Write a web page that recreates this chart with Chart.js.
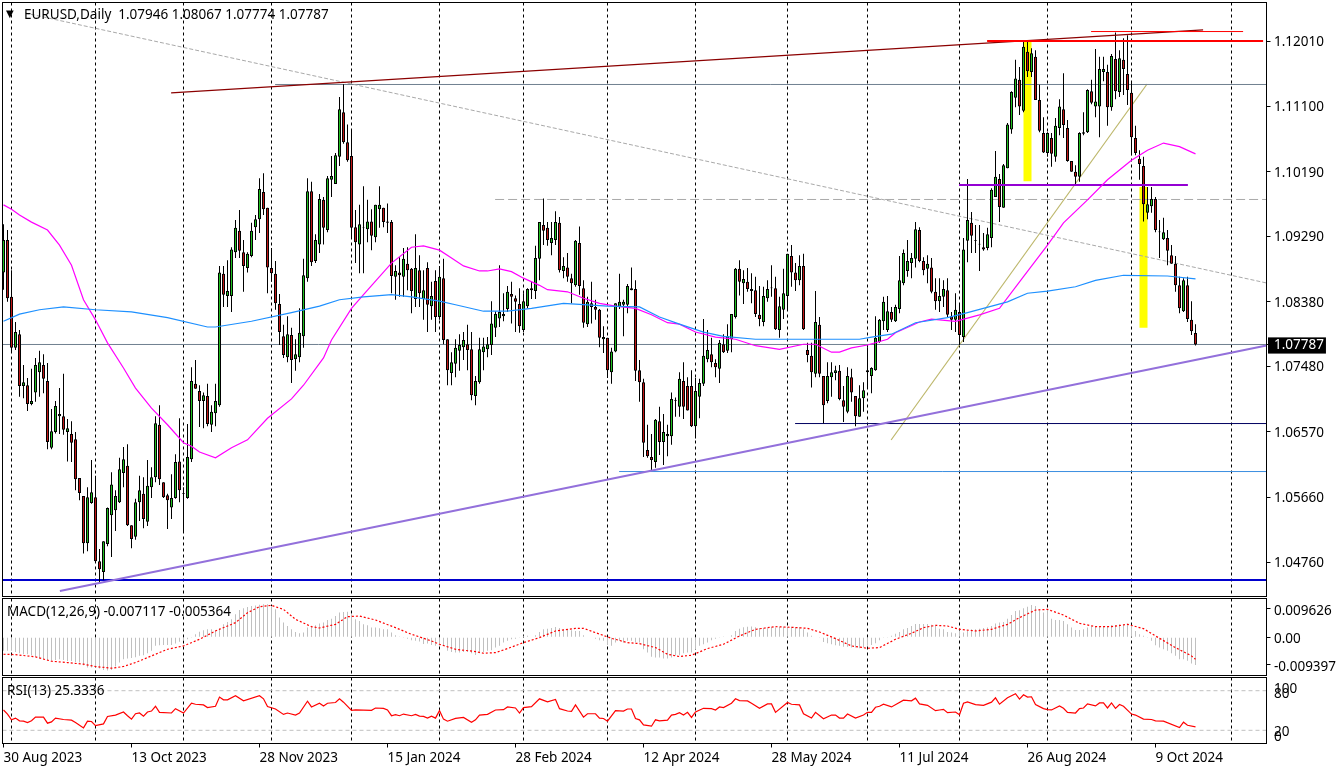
<!DOCTYPE html>
<html>
<head>
<meta charset="utf-8">
<title>EURUSD Daily</title>
<script src="https://cdn.jsdelivr.net/npm/chart.js@4"></script>
<style>
html,body{margin:0;padding:0;background:#fff;}
canvas{position:absolute;left:0;display:block;}
</style>
</head>
<body>
<canvas id="cMain" width="1338" height="598" style="top:0"></canvas>
<canvas id="cMacd" width="1338" height="78" style="top:598px"></canvas>
<canvas id="cRsi" width="1338" height="94" style="top:677px"></canvas>
<script>
const opens=[1.0879,1.0924,1.0845,1.0774,1.0793,1.0721,1.0722,1.0696,1.0712,1.0740,
1.0750,1.0728,1.0635,1.0657,1.0679,1.0679,1.0657,1.0654,1.0647,1.0593,
1.0568,1.0502,1.0558,1.0566,1.0477,1.0462,1.0501,1.0541,1.0548,1.0559,
1.0600,1.0610,1.0527,1.0511,1.0559,1.0571,1.0532,1.0580,1.0594,1.0667,
1.0587,1.0569,1.0552,1.0565,1.0616,1.0572,1.0565,1.0619,1.0724,1.0714,
1.0700,1.0707,1.0667,1.0683,1.0694,1.0877,1.0846,1.0846,1.0907,1.0937,
1.0907,1.0885,1.0902,1.0942,1.0953,1.0991,1.0969,1.0885,1.0877,1.0835,
1.0790,1.0761,1.0792,1.0758,1.0761,1.0790,1.0871,1.0992,1.0895,1.0918,
1.0980,1.0938,1.1008,1.1002,1.1040,1.1102,1.1060,1.1041,1.0942,1.0918,
1.0941,1.0939,1.0950,1.0928,1.0967,1.0969,1.0950,1.0949,1.0873,1.0879,
1.0873,1.0891,1.0884,1.0842,1.0882,1.0842,1.0885,1.0832,1.0867,1.0817,
1.0871,1.0786,1.0739,1.0752,1.0770,1.0775,1.0779,1.0772,1.0707,1.0726,
1.0768,1.0772,1.0778,1.0802,1.0815,1.0818,1.0828,1.0849,1.0843,1.0835,
1.0799,1.0832,1.0854,1.0853,1.0898,1.0945,1.0941,1.0920,1.0924,1.0948,
1.0881,1.0886,1.0871,1.0861,1.0920,1.0857,1.0807,1.0836,1.0831,1.0827,
1.0786,1.0788,1.0740,1.0769,1.0831,1.0834,1.0834,1.0857,1.0856,1.0743,
1.0726,1.0632,1.0622,1.0615,1.0672,1.0643,1.0651,1.0651,1.0700,1.0692,
1.0728,1.0721,1.0721,1.0665,1.0706,1.0724,1.0758,1.0765,1.0753,1.0745,
1.0779,1.0770,1.0786,1.0817,1.0884,1.0864,1.0866,1.0856,1.0854,1.0820,
1.0810,1.0843,1.0857,1.0857,1.0799,1.0827,1.0846,1.0902,1.0879,1.0868,
1.0888,1.0771,1.0763,1.0738,1.0806,1.0735,1.0700,1.0733,1.0739,1.0742,
1.0701,1.0685,1.0733,1.0707,1.0678,1.0704,1.0740,1.0735,1.0743,1.0782,
1.0811,1.0799,1.0824,1.0811,1.0828,1.0864,1.0881,1.0892,1.0898,1.0938,
1.0895,1.0884,1.0886,1.0852,1.0839,1.0845,1.0854,1.0818,1.0813,1.0824,
1.0789,1.0923,1.0948,1.0923,1.0918,1.0914,1.0913,1.0927,1.0984,1.1009,
1.0969,1.1024,1.1078,1.1122,1.1147,1.1104,1.1186,1.1158,1.1179,1.1119,
1.1073,1.1045,1.1066,1.1040,1.1080,1.1106,1.1080,1.1034,1.1019,1.1012,
1.1072,1.1074,1.1131,1.1110,1.1110,1.1158,1.1158,1.1109,1.1176,1.1130,
1.1175,1.1155,1.1129,1.1066,1.1037,1.1027,1.0962,1.0971,1.0981,1.0936,
1.0925,1.0927,1.0903,1.0891,1.0861,1.0825,1.0861,1.0813,1.07946];
const closes=[1.0924,1.0843,1.0774,1.0796,1.0721,1.0726,1.0696,1.0700,1.0750,1.0754,
1.0731,1.0643,1.0658,1.0693,1.0682,1.0660,1.0662,1.0642,1.0591,1.0572,
1.0502,1.0566,1.0573,1.0477,1.0466,1.0505,1.0551,1.0584,1.0568,1.0605,
1.0619,1.0527,1.0508,1.0559,1.0576,1.0536,1.0582,1.0594,1.0669,1.0591,
1.0566,1.0562,1.0565,1.0615,1.0576,1.0571,1.0622,1.0728,1.0717,1.0700,
1.0708,1.0668,1.0685,1.0700,1.0879,1.0848,1.0853,1.0911,1.0941,1.0909,
1.0888,1.0905,1.0937,1.0953,1.0995,1.0967,1.0886,1.0878,1.0836,1.0796,
1.0764,1.0793,1.0757,1.0765,1.0795,1.0875,1.0992,1.0893,1.0924,1.0981,
1.0941,1.1010,1.1013,1.1042,1.1106,1.1060,1.1035,1.0941,1.0921,1.0946,
1.0942,1.0950,1.0930,1.0973,1.0973,1.0949,1.0948,1.0874,1.0881,1.0875,
1.0898,1.0882,1.0853,1.0885,1.0850,1.0854,1.0834,1.0846,1.0817,1.0873,
1.0785,1.0743,1.0754,1.0774,1.0778,1.0785,1.0771,1.0708,1.0728,1.0772,
1.0776,1.0779,1.0808,1.0821,1.0824,1.0821,1.0852,1.0845,1.0838,1.0804,
1.0839,1.0856,1.0857,1.0899,1.0949,1.0937,1.0924,1.0927,1.0949,1.0882,
1.0888,1.0873,1.0864,1.0923,1.0860,1.0809,1.0838,1.0831,1.0827,1.0788,
1.0789,1.0743,1.0769,1.0836,1.0838,1.0838,1.0860,1.0854,1.0742,1.0726,
1.0642,1.0623,1.0618,1.0674,1.0643,1.0657,1.0654,1.0703,1.0701,1.0731,
1.0692,1.0687,1.0665,1.0714,1.0725,1.0763,1.0771,1.0754,1.0747,1.0781,
1.0768,1.0790,1.0821,1.0884,1.0866,1.0870,1.0856,1.0853,1.0821,1.0814,
1.0846,1.0856,1.0858,1.0800,1.0832,1.0850,1.0905,1.0879,1.0868,1.0888,
1.0800,1.0764,1.0740,1.0810,1.0738,1.0694,1.0735,1.0740,1.0743,1.0703,
1.0692,1.0735,1.0712,1.0679,1.0704,1.0715,1.0743,1.0746,1.0788,1.0813,
1.0838,1.0825,1.0813,1.0831,1.0868,1.0906,1.0895,1.0899,1.0939,1.0895,
1.0882,1.0891,1.0852,1.0839,1.0846,1.0856,1.0820,1.0813,1.0827,1.0792,
1.0911,1.0952,1.0930,1.0924,1.0919,1.0911,1.0932,1.0994,1.1012,1.0970,
1.1028,1.1085,1.1130,1.1149,1.1110,1.1193,1.1159,1.1184,1.1119,1.1076,
1.1046,1.1073,1.1044,1.1083,1.1110,1.1084,1.1034,1.1019,1.1012,1.1073,
1.1074,1.1133,1.1115,1.1117,1.1162,1.1162,1.1109,1.1180,1.1131,1.1177,
1.1162,1.1133,1.1067,1.1045,1.1030,1.0974,1.0974,1.0981,1.0938,1.0935,
1.0935,1.0909,1.0891,1.0861,1.0829,1.0868,1.0814,1.0797,1.07787];
const highs=[1.0946,1.0938,1.0882,1.0810,1.0799,1.0750,1.0732,1.0745,1.0760,1.0770,
1.0765,1.0753,1.0689,1.0700,1.0718,1.0738,1.0675,1.0672,1.0657,1.0593,
1.0568,1.0580,1.0618,1.0596,1.0494,1.0505,1.0552,1.0601,1.0576,1.0621,
1.0636,1.0640,1.0527,1.0564,1.0596,1.0594,1.0618,1.0608,1.0679,1.0694,
1.0587,1.0571,1.0598,1.0626,1.0676,1.0580,1.0668,1.0747,1.0757,1.0722,
1.0712,1.0724,1.0694,1.0724,1.0888,1.0888,1.0896,1.0914,1.0952,1.0966,
1.0924,1.0907,1.0948,1.0959,1.1010,1.1017,1.0969,1.0913,1.0895,1.0849,
1.0806,1.0818,1.0802,1.0786,1.0829,1.0898,1.1010,1.1005,1.0932,1.0988,
1.0984,1.1013,1.1041,1.1045,1.1123,1.1141,1.1085,1.1077,1.0966,1.0973,
1.0999,1.0980,1.0967,1.0973,1.0999,1.0969,1.0975,1.0952,1.0889,1.0900,
1.0913,1.0914,1.0885,1.0932,1.0903,1.0882,1.0893,1.0866,1.0882,1.0888,
1.0898,1.0786,1.0768,1.0786,1.0793,1.0796,1.0806,1.0796,1.0735,1.0788,
1.0788,1.0789,1.0839,1.0825,1.0889,1.0850,1.0860,1.0866,1.0847,1.0857,
1.0850,1.0857,1.0866,1.0916,1.0949,1.0982,1.0949,1.0949,1.0964,1.0956,
1.0900,1.0906,1.0877,1.0924,1.0943,1.0868,1.0845,1.0866,1.0841,1.0828,
1.0804,1.0788,1.0774,1.0836,1.0877,1.0841,1.0863,1.0886,1.0868,1.0757,
1.0731,1.0667,1.0654,1.0675,1.0692,1.0682,1.0667,1.0712,1.0705,1.0740,
1.0754,1.0733,1.0743,1.0732,1.0731,1.0814,1.0799,1.0788,1.0758,1.0785,
1.0793,1.0807,1.0821,1.0885,1.0896,1.0882,1.0885,1.0878,1.0873,1.0860,
1.0859,1.0868,1.0889,1.0873,1.0845,1.0884,1.0905,1.0917,1.0892,1.0903,
1.0905,1.0781,1.0781,1.0853,1.0817,1.0735,1.0754,1.0754,1.0749,1.0750,
1.0721,1.0747,1.0745,1.0707,1.0722,1.0726,1.0775,1.0747,1.0818,1.0814,
1.0845,1.0846,1.0831,1.0834,1.0902,1.0911,1.0924,1.0906,1.0949,1.0942,
1.0900,1.0903,1.0899,1.0871,1.0871,1.0868,1.0871,1.0824,1.0850,1.0836,
1.0927,1.1009,1.0963,1.0945,1.0945,1.0934,1.0941,1.0996,1.1048,1.1016,
1.1030,1.1087,1.1131,1.1175,1.1165,1.1201,1.1202,1.1191,1.1188,1.1140,
1.1095,1.1074,1.1073,1.1094,1.1120,1.1156,1.1091,1.1034,1.1028,1.1074,
1.1102,1.1134,1.1147,1.1190,1.1179,1.1179,1.1168,1.1183,1.1213,1.1188,
1.1205,1.1209,1.1145,1.1083,1.1049,1.1040,1.0998,1.0998,1.0984,1.0952,
1.0955,1.0938,1.0917,1.0902,1.0873,1.0871,1.0873,1.0839,1.08067];
const lows=[1.0855,1.0838,1.0768,1.0771,1.0706,1.0704,1.0686,1.0694,1.0699,1.0706,
1.0711,1.0633,1.0633,1.0655,1.0654,1.0653,1.0616,1.0615,1.0576,1.0562,
1.0488,1.0491,1.0557,1.0475,1.0448,1.0451,1.0498,1.0483,1.0519,1.0558,
1.0580,1.0526,1.0495,1.0507,1.0533,1.0523,1.0526,1.0565,1.0587,1.0583,
1.0565,1.0522,1.0536,1.0564,1.0559,1.0518,1.0564,1.0615,1.0717,1.0664,
1.0662,1.0665,1.0657,1.0665,1.0692,1.0831,1.0831,1.0824,1.0899,1.0899,
1.0852,1.0879,1.0900,1.0924,1.0934,1.0959,1.0850,1.0866,1.0827,1.0778,
1.0760,1.0754,1.0725,1.0742,1.0754,1.0774,1.0866,1.0888,1.0892,1.0906,
1.0918,1.0935,1.0984,1.1002,1.1027,1.1058,1.1033,1.0928,1.0892,1.0878,
1.0878,1.0921,1.0910,1.0921,1.0941,1.0942,1.0934,1.0850,1.0841,1.0845,
1.0845,1.0854,1.0822,1.0831,1.0831,1.0813,1.0796,1.0813,1.0796,1.0813,
1.0779,1.0722,1.0722,1.0733,1.0742,1.0757,1.0743,1.0701,1.0694,1.0724,
1.0743,1.0761,1.0764,1.0789,1.0803,1.0811,1.0824,1.0808,1.0796,1.0795,
1.0796,1.0829,1.0842,1.0842,1.0868,1.0917,1.0916,1.0903,1.0917,1.0879,
1.0871,1.0866,1.0836,1.0859,1.0848,1.0802,1.0803,1.0808,1.0813,1.0775,
1.0767,1.0732,1.0724,1.0768,1.0828,1.0790,1.0822,1.0854,1.0728,1.0699,
1.0622,1.0621,1.0603,1.0607,1.0625,1.0611,1.0623,1.0639,1.0678,1.0678,
1.0675,1.0687,1.0664,1.0648,1.0676,1.0721,1.0754,1.0747,1.0733,1.0725,
1.0767,1.0767,1.0768,1.0815,1.0847,1.0835,1.0852,1.0836,1.0817,1.0804,
1.0804,1.0838,1.0845,1.0799,1.0788,1.0814,1.0827,1.0859,1.0853,1.0861,
1.0799,1.0754,1.0719,1.0733,1.0733,1.0669,1.0697,1.0706,1.0729,1.0701,
1.0671,1.0683,1.0699,1.0665,1.0678,1.0685,1.0718,1.0711,1.0742,1.0781,
1.0799,1.0796,1.0810,1.0810,1.0822,1.0861,1.0873,1.0871,1.0886,1.0893,
1.0875,1.0864,1.0850,1.0827,1.0824,1.0831,1.0817,1.0799,1.0796,1.0778,
1.0782,1.0893,1.0906,1.0906,1.0881,1.0909,1.0910,1.0914,1.0984,1.0949,
1.0969,1.1024,1.1072,1.1109,1.1098,1.1102,1.1151,1.1151,1.1119,1.1074,
1.1045,1.1040,1.1026,1.1033,1.1070,1.1066,1.1033,1.1019,1.1002,1.1005,
1.1070,1.1073,1.1113,1.1095,1.1067,1.1145,1.1083,1.1104,1.1120,1.1123,
1.1126,1.1112,1.1042,1.1042,1.1008,1.0950,1.0953,1.0962,1.0935,1.0899,
1.0924,1.0889,1.0891,1.0852,1.0822,1.0824,1.0810,1.0792,1.07774];

const maSlowIdx=[0,2,4,7,11,14,17,20,23,26,30,33,37,41,45,47,49,53,57,61,66,72,75,80,82,87,90,97,102,105,109,112,115,119,121,124,127,130,134,136,141,145,149,153,158,162,166,169,173,178,183,188,194,200,203,207,209,212,216,221,223,229,232,238,244,249,255,261,265,271,276,282,286,290,294,298];
const maSlow=[1.0973,1.0967,1.0959,1.0949,1.0938,1.0917,1.0889,1.0841,1.0813,1.0781,1.0746,1.0718,1.0690,1.0667,1.0642,1.0637,1.0629,1.0621,1.0635,1.0646,1.0676,1.0703,1.0722,1.0760,1.0785,1.0829,1.0848,1.0892,1.0914,1.0916,1.0910,1.0899,1.0888,1.0881,1.0881,1.0884,1.0880,1.0871,1.0861,1.0855,1.0852,1.0843,1.0836,1.0832,1.0829,1.0820,1.0809,1.0807,1.0796,1.0789,1.0786,1.0777,1.0772,1.0779,1.0779,1.0768,1.0768,1.0774,1.0778,1.0786,1.0795,1.0810,1.0814,1.0811,1.0820,1.0829,1.0873,1.0917,1.0948,1.0980,1.1008,1.1035,1.1049,1.1059,1.1054,1.1044];
const maLongIdx=[0,4,9,15,23,32,41,51,53,62,72,79,84,90,97,102,109,113,120,126,132,140,151,159,164,169,175,180,188,201,214,217,222,228,236,241,251,256,261,268,273,280,291,298];
const maLong=[1.0811,1.0821,1.0827,1.0831,1.0827,1.0824,1.0816,1.0803,1.0803,1.0811,1.0823,1.0832,1.0841,1.0845,1.0848,1.0845,1.0839,1.0834,1.0825,1.0825,1.0829,1.0836,1.0832,1.0831,1.0817,1.0807,1.0796,1.0790,1.0786,1.0786,1.0786,1.0789,1.0793,1.0809,1.0816,1.0823,1.0838,1.0850,1.0853,1.0859,1.0868,1.0875,1.0874,1.0870];

const macdHist=[-0.0046,-0.0046,-0.0046,-0.0050,-0.0054,-0.0058,-0.0058,-0.0061,-0.0066,-0.0072,
-0.0075,-0.0080,-0.0080,-0.0077,-0.0075,-0.0077,-0.0081,-0.0081,-0.0084,-0.0086,
-0.0095,-0.0103,-0.0103,-0.0102,-0.0106,-0.0111,-0.0113,-0.0111,-0.0099,-0.0086,
-0.0075,-0.0072,-0.0070,-0.0068,-0.0063,-0.0061,-0.0054,-0.0046,-0.0029,-0.0027,
-0.0026,-0.0026,-0.0026,-0.0021,-0.0015,-0.0010,-0.0007,-0.0001,0.0010,0.0019,
0.0024,0.0027,0.0027,0.0024,0.0031,0.0044,0.0052,0.0061,0.0078,0.0093,
0.0099,0.0103,0.0106,0.0108,0.0111,0.0112,0.0112,0.0106,0.0095,0.0067,
0.0050,0.0038,0.0027,0.0018,0.0014,0.0016,0.0033,0.0038,0.0041,0.0047,
0.0050,0.0059,0.0063,0.0072,0.0084,0.0086,0.0087,0.0078,0.0061,0.0055,
0.0044,0.0041,0.0033,0.0033,0.0031,0.0027,0.0027,0.0016,0.0007,0.0001,
-0.0001,-0.0005,-0.0010,-0.0012,-0.0014,-0.0023,-0.0021,-0.0026,-0.0029,-0.0029,
-0.0029,-0.0046,-0.0050,-0.0052,-0.0052,-0.0050,-0.0050,-0.0054,-0.0060,-0.0054,
-0.0050,-0.0046,-0.0044,-0.0035,-0.0029,-0.0018,-0.0012,-0.0007,-0.0005,-0.0002,
0.0005,0.0005,0.0002,0.0007,0.0018,0.0027,0.0029,0.0032,0.0035,0.0032,
0.0027,0.0027,0.0024,0.0021,0.0021,0.0007,0.0002,0.0000,-0.0005,-0.0010,
-0.0012,-0.0026,-0.0029,-0.0018,-0.0012,-0.0018,-0.0012,-0.0012,-0.0018,-0.0018,
-0.0041,-0.0052,-0.0066,-0.0069,-0.0069,-0.0072,-0.0072,-0.0069,-0.0061,-0.0061,
-0.0054,-0.0052,-0.0052,-0.0041,-0.0029,-0.0024,-0.0018,-0.0010,-0.0005,-0.0001,
0.0001,0.0002,0.0007,0.0021,0.0029,0.0034,0.0036,0.0037,0.0034,0.0032,
0.0032,0.0031,0.0035,0.0033,0.0035,0.0036,0.0035,0.0036,0.0035,0.0035,
0.0027,0.0016,0.0005,0.0002,-0.0001,-0.0016,-0.0020,-0.0024,-0.0027,-0.0029,
-0.0032,-0.0032,-0.0035,-0.0035,-0.0037,-0.0035,-0.0029,-0.0026,-0.0020,-0.0010,
-0.0001,-0.0001,0.0005,0.0012,0.0018,0.0027,0.0032,0.0038,0.0045,0.0045,
0.0045,0.0045,0.0043,0.0038,0.0029,0.0027,0.0018,0.0016,0.0014,0.0023,
0.0016,0.0021,0.0027,0.0027,0.0029,0.0032,0.0033,0.0038,0.0047,0.0050,
0.0052,0.0063,0.0076,0.0089,0.0092,0.0099,0.0104,0.0110,0.0106,0.0095,
0.0084,0.0093,0.0063,0.0059,0.0059,0.0055,0.0044,0.0033,0.0025,0.0025,
0.0027,0.0033,0.0038,0.0038,0.0036,0.0038,0.0036,0.0042,0.0042,0.0044,
0.0044,0.0046,0.0038,0.0021,0.0010,0.0005,-0.0001,-0.0012,-0.0027,-0.0035,
-0.0041,-0.0046,-0.0054,-0.0063,-0.0075,-0.0075,-0.0080,-0.0089,-0.0094];
const macdSignalIdx=[0,3,8,12,16,20,23,27,30,33,37,41,45,49,53,58,61,64,67,70,73,77,79,83,86,89,93,98,102,107,109,113,118,120,123,126,130,134,138,143,145,148,152,156,159,163,166,169,172,176,180,184,188,193,197,201,204,208,212,216,219,223,227,230,233,236,239,243,247,251,254,258,261,265,269,273,277,281,285,288,293,297,298];
const macdSignal=[-0.00576,-0.00588,-0.00667,-0.00814,-0.00859,-0.00915,-0.00994,-0.01051,-0.00994,-0.00859,-0.00633,-0.00407,-0.00294,-0.00068,0.00215,0.00497,0.00836,0.0104,0.01085,0.00949,0.0061,0.00362,0.00316,0.00441,0.00701,0.00723,0.00588,0.00328,0.00102,-0.00124,-0.00237,-0.00407,-0.00486,-0.00542,-0.0052,-0.00384,-0.00181,-0.00011,0.00215,0.00305,0.00305,0.00158,-0.00034,-0.00181,-0.00215,-0.0035,-0.00576,-0.00655,-0.0061,-0.00384,-0.00237,0.00045,0.00271,0.00362,0.00339,0.00305,0.00181,-0.00045,-0.00294,-0.00373,-0.0035,-0.00068,0.00136,0.00328,0.00407,0.00384,0.00271,0.00215,0.00271,0.00441,0.00667,0.00927,0.00949,0.00757,0.00475,0.00362,0.00362,0.00441,0.00294,0.00045,-0.0035,-0.00633,-0.00746];

const rsiIdx=[0,1,2,3,4,5,6,7,8,10,11,12,13,15,17,18,20,21,22,23,25,26,28,30,31,32,33,34,35,36,37,38,39,42,43,45,47,48,50,51,53,54,55,56,58,60,64,65,66,68,70,71,73,74,76,77,79,80,81,83,84,85,87,88,92,93,95,96,97,98,99,100,102,103,104,105,106,107,108,109,
110,111,113,115,117,118,119,121,123,125,126,128,129,130,132,134,136,138,139,141,142,143,145,146,148,149,150,151,153,155,156,157,158,159,160,162,163,164,166,167,168,169,170,171,172,173,175,177,178,179,180,182,183,184,186,187,189,191,192,193,196,197,199,200,202,203,205,207,208,209,210,211,213,215,216,217,218,219,
220,222,225,227,228,229,231,233,234,235,236,238,239,240,241,243,245,247,248,249,251,253,254,255,256,257,258,260,261,262,264,265,266,268,269,270,271,273,274,275,276,277,278,279,280,282,283,285,287,288,290,294,295,296,298];
const rsiValues=[50.8,44.6,35.9,38.5,34.4,33.8,31.8,34.4,40.0,40.0,30.8,32.8,38.5,36.4,35.4,31.8,23.6,33.8,33.3,27.2,29.7,41.0,43.1,47.7,42.1,36.9,45.1,46.2,41.5,47.7,49.2,56.4,47.2,46.2,52.8,46.2,61.0,59.5,58.5,54.4,56.4,70.3,66.2,66.2,72.3,64.6,72.3,67.7,55.9,52.3,44.1,46.2,43.1,46.2,64.1,55.4,61.0,56.9,61.0,62.1,67.7,62.6,50.3,50.8,50.3,53.8,53.3,50.8,42.1,43.6,42.1,44.6,42.1,44.1,41.5,41.0,38.5,41.5,38.5,49.7,
36.9,33.8,38.0,39.5,32.3,35.9,43.1,44.1,50.8,51.3,55.4,53.8,46.2,54.4,55.9,67.7,63.1,66.7,52.8,49.2,48.7,58.5,40.0,45.1,45.1,38.5,37.9,33.8,49.7,49.2,52.3,52.3,37.9,35.9,28.2,26.2,35.9,34.4,35.4,43.1,44.1,46.7,43.1,47.2,39.5,47.7,53.3,52.8,50.8,55.4,54.4,61.0,67.7,65.1,64.6,61.0,53.3,60.0,60.0,47.2,62.1,59.5,58.5,45.1,38.5,47.2,37.4,43.1,43.1,38.5,38.5,44.6,38.5,43.1,47.2,47.2,54.9,56.4,
59.5,55.4,65.6,64.6,68.7,60.0,57.9,49.7,50.8,51.8,46.7,47.7,43.6,61.0,63.1,59.0,57.9,62.6,69.2,59.5,69.2,75.4,67.2,73.8,70.3,70.8,59.0,52.8,51.3,50.8,56.9,53.3,47.2,46.2,52.8,53.8,60.0,56.9,61.5,61.5,53.8,61.5,53.3,59.0,56.4,44.6,43.1,36.9,36.4,34.4,33.8,24.1,32.3,27.7,25.3];
const rsiGuideLevels=[80,20];

const xTickIdx=[0,32,64,96,128,160,192,224,256,288];
const xTickLabels=["30 Aug 2023","13 Oct 2023","28 Nov 2023","15 Jan 2024","28 Feb 2024","12 Apr 2024","28 May 2024","11 Jul 2024","26 Aug 2024","9 Oct 2024"];
const monthLineIdx=[2,23,45,67,87,109,130,151,173,196,216,239,261,282,307];
const priceTicks=[1.1201,1.111,1.1019,1.0929,1.0838,1.0748,1.0657,1.0566,1.0476];
const lastPrice=1.07787;
const macdTicks=[0.009626,0,-0.009397];
const macdTickLabels=["0.009626","0.00","-0.009397"];
const rsiTickSpots=[84,77,19,11.4];
const rsiTickLabels=["100","80","20","0"];

const firstIdx=-0.25, lastIdx=315.75;
const diagDownX=[5.4,lastIdx],      diagDownY=[1.1240,1.08643];
const resistX=[41.9,299.9],         resistY=[1.11287,1.12164];
const swingHighX=[67.9,lastIdx],    swingHighY=[1.11405,1.11405];
const redTopX=[245.9,314.9],        redTopY=[1.1201,1.1201];
const redThinX=[271.9,309.9],       redThinY=[1.12142,1.12142];
const neckX=[238.9,296.1],          neckY=[1.10006,1.10006];
const dashLevelX=[122.9,lastIdx],   dashLevelY=[1.09805,1.09805];
const tanX=[221.9,285.9],           tanY=[1.06458,1.11412];
const supportX=[14.1,lastIdx],      supportY=[1.04357,1.07773];
const baseLevelX=[firstIdx,lastIdx],baseLevelY=[1.0451,1.0451];
const navyLevelX=[197.9,lastIdx],   navyLevelY=[1.06687,1.06687];
const skyLevelX=[153.9,lastIdx],    skyLevelY=[1.06019,1.06019];
const bidX=[firstIdx,lastIdx],      bidY=[lastPrice,lastPrice];
const yellowIdx=[256,285];
const yellowLow=[1.1006,1.0802];
const yellowHigh=[1.1201,1.0998];

const FONT='"Noto Sans","DejaVu Sans",sans-serif';
const TICK_FONT={family:FONT,size:13.5};
const zip=(xs,ys)=>xs.map((x,k)=>({x,y:ys[k]}));
const line=(xs,ys,color,width,order,dash)=>({type:'line',data:zip(xs,ys),borderColor:color,borderWidth:width,borderDash:dash||[],pointRadius:0,tension:0,fill:false,order});
const bars=(data,thick,color,order,extra)=>Object.assign({type:'bar',data,barThickness:thick,backgroundColor:color,borderWidth:0,grouped:false,inflateAmount:0,order},extra||{});

function xAxes(showLabels){
  return {
    x:{type:'linear',min:firstIdx,max:lastIdx,offset:false,position:'bottom',
       grid:{offset:false,drawOnChartArea:false,drawTicks:showLabels,tickLength:4,tickColor:'#000'},
       border:{display:false},
       ticks:{display:showLabels,autoSkip:false,maxRotation:0,minRotation:0,align:'start',padding:3,color:'#000',font:TICK_FONT,
              callback:v=>xTickLabels[xTickIdx.indexOf(v)]},
       afterBuildTicks:s=>{s.ticks=xTickIdx.map(value=>({value}));},
       afterFit:s=>{s.height=showLabels?27.5:0;s.paddingLeft=0;s.paddingRight=0;}},
    xMonths:{type:'linear',axis:'x',min:firstIdx,max:lastIdx,offset:false,position:'bottom',
       grid:{offset:false,color:'#000',lineWidth:1,drawTicks:false},
       border:{display:false,dash:[3,3]},
       ticks:{display:false},
       afterBuildTicks:s=>{s.ticks=monthLineIdx.map(value=>({value}));},
       afterFit:s=>{s.height=0;s.paddingLeft=0;s.paddingRight=0;}}
  };
}
function yAxis(min,max,spots,label,extraTicks,tickColor){
  return {type:'linear',position:'right',min,max,beginAtZero:false,
    grid:{drawOnChartArea:false,tickLength:4,tickColor:tickColor||'#000'},
    border:{display:false},
    ticks:Object.assign({autoSkip:false,padding:3.5,color:'#000',font:TICK_FONT,callback:label},extraTicks||{}),
    afterBuildTicks:s=>{s.ticks=spots.map(value=>({value}));},
    afterFit:s=>{s.width=71.5;s.paddingTop=0;s.paddingBottom=0;}};
}
const framePlugin=caption=>({id:'frame',afterDraw(chart){
  const {ctx,chartArea:a}=chart;
  ctx.save();
  ctx.strokeStyle='#000';ctx.lineWidth=1;
  ctx.strokeRect(a.left,a.top,a.right-a.left,a.bottom-a.top);
  ctx.fillStyle='#000';ctx.textBaseline='middle';ctx.textAlign='left';
  if(caption.mark){ctx.font='10px "DejaVu Sans"';ctx.fillText(caption.mark,6,caption.y-1);}
  ctx.font='13.5px '+FONT;
  ctx.fillText(caption.text,caption.x,caption.y);
  ctx.restore();
}});
const baseOptions=(padding,scales)=>({responsive:false,animation:false,devicePixelRatio:1,
  layout:{padding},plugins:{legend:{display:false},tooltip:{enabled:false},title:{display:false}},scales});

const idx=opens.map((_,i)=>i);
const isUp=i=>closes[i]>=opens[i];
const bodyColors=idx.map(i=>isUp(i)?'#1FBF1F':'#C01515');
const pyLow=1.04280, pyHigh=1.12546;

new Chart(document.getElementById('cMain'),{
  type:'bar',
  data:{datasets:[
    bars(yellowIdx.map((x,k)=>({x,y:[yellowLow[k],yellowHigh[k]]})),8,'#FFFF00',9),
    line(dashLevelX,dashLevelY,'#A9A9A9',1,8,[9,4]),
    line(diagDownX,diagDownY,'#A9A9A9',1,8,[4,2]),
    line(swingHighX,swingHighY,'#708090',1,8),
    line(bidX,bidY,'#708090',1,8),
    line(skyLevelX,skyLevelY,'#3A8EE0',1,8),
    line(navyLevelX,navyLevelY,'#000060',1,8),
    line(baseLevelX,baseLevelY,'#0000CD',2,8),
    line(tanX,tanY,'#BDB76B',1.2,8),
    bars(idx.map(i=>({x:i,y:[lows[i],highs[i]]})),1,'#000',6),
    bars(idx.map(i=>({x:i,y:[opens[i],closes[i]]})),3,bodyColors,5,{borderWidth:1,borderColor:'#000',borderSkipped:false}),
    line(resistX,resistY,'#8B0000',1.2,4),
    line(redTopX,redTopY,'#FF0000',2,3),
    line(redThinX,redThinY,'#FF0000',1,3),
    line(neckX,neckY,'#9400D3',2,3),
    line(supportX,supportY,'#9370DB',2,3),
    line(maLongIdx,maLong,'#1E90FF',1.2,2),
    line(maSlowIdx,maSlow,'#FF00FF',1.2,2)
  ]},
  options:baseOptions({left:2.5,right:0,top:2.5,bottom:1.5},Object.assign(xAxes(false),{
    y:yAxis(pyLow,pyHigh,priceTicks.concat([lastPrice]),v=>v.toFixed(5),{
      labelOffset:1,
      color:c=>c.tick&&c.tick.value===lastPrice?'#fff':'#000',
      showLabelBackdrop:c=>!!(c.tick&&c.tick.value===lastPrice),
      backdropColor:'#000',
      backdropPadding:{left:6,right:2,top:0,bottom:0}
    })
  })),
  plugins:[framePlugin({text:'EURUSD,Daily  1.07946 1.08067 1.07774 1.07787',x:24,y:15,mark:'\u25BC'})]
});

new Chart(document.getElementById('cMacd'),{
  type:'bar',
  data:{datasets:[
    bars(idx.map(i=>({x:i,y:[0,macdHist[i]]})),1,'#C0C0C0',3),
    line(macdSignalIdx,macdSignal,'#FF0000',1.2,1,[2,2])
  ]},
  options:baseOptions({left:2.5,right:0,top:0.5,bottom:0.5},Object.assign(xAxes(false),{
    y:yAxis(-0.01299,0.01319,macdTicks,v=>macdTickLabels[macdTicks.indexOf(v)],{labelOffset:2})
  })),
  plugins:[framePlugin({text:'MACD(12,26,9) -0.007117 -0.005364',x:7,y:14.5})]
});

new Chart(document.getElementById('cRsi'),{
  type:'bar',
  data:{datasets:[
    line([firstIdx,lastIdx],[rsiGuideLevels[0],rsiGuideLevels[0]],'#C0C0C0',1,3,[4,3]),
    line([firstIdx,lastIdx],[rsiGuideLevels[1],rsiGuideLevels[1]],'#C0C0C0',1,3,[4,3]),
    line(rsiIdx,rsiValues,'#FF0000',1.2,1)
  ]},
  options:baseOptions({left:2.5,right:0,top:0.5,bottom:0},Object.assign(xAxes(true),{
    y:yAxis(0,100,rsiTickSpots,v=>rsiTickLabels[rsiTickSpots.indexOf(v)],{labelOffset:1},'rgba(0,0,0,0)')
  })),
  plugins:[framePlugin({text:'RSI(13) 25.3336',x:7,y:14})]
});
</script>
</body>
</html>
